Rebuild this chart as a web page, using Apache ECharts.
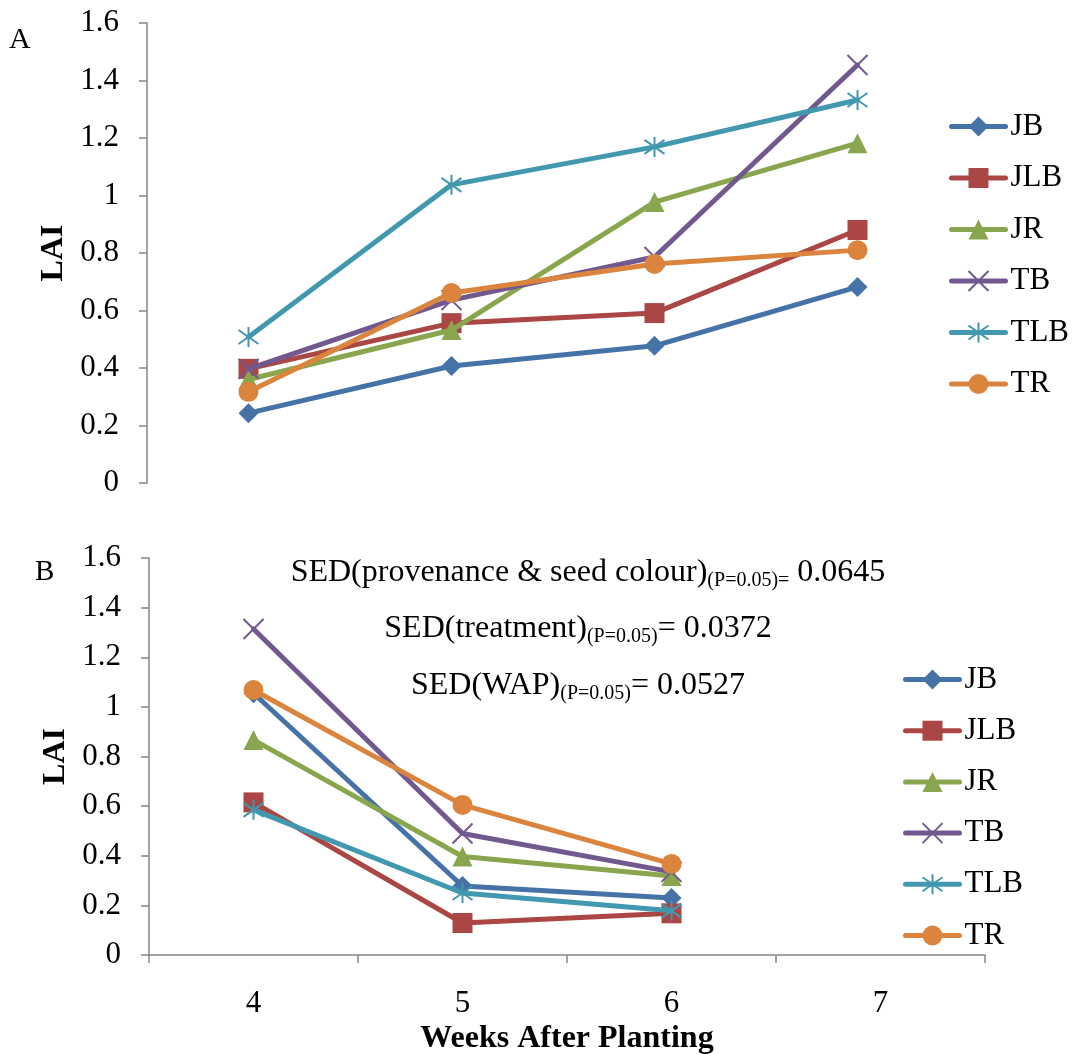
<!DOCTYPE html>
<html><head><meta charset="utf-8">
<script src="https://cdn.jsdelivr.net/npm/echarts@6/dist/echarts.min.js"></script>
<style>html,body{margin:0;padding:0;background:#fff}#c{width:1077px;height:1054px}</style>
</head><body><div id="c"></div>
<script>
// ---- Data ----
const weeks = ['4', '5', '6', '7'];
const seriesNames = ['JB', 'JLB', 'JR', 'TB', 'TLB', 'TR'];
const yTicks = [0, 0.2, 0.4, 0.6, 0.8, 1, 1.2, 1.4, 1.6];

// Panel A
const A_JB  = [0.243, 0.407, 0.477, 0.682];
const A_JLB = [0.397, 0.556, 0.591, 0.880];
const A_JR  = [0.360, 0.532, 0.977, 1.182];
const A_TB  = [0.397, 0.636, 0.786, 1.454];
const A_TLB = [0.508, 1.037, 1.169, 1.332];
const A_TR  = [0.317, 0.661, 0.762, 0.810];

// Panel B
const B_JB  = [1.055, 0.278, 0.230];
const B_JLB = [0.615, 0.129, 0.168];
const B_JR  = [0.867, 0.397, 0.318];
const B_TB  = [1.314, 0.490, 0.335];
const B_TLB = [0.585, 0.250, 0.178];
const B_TR  = [1.068, 0.605, 0.367];

const sedLines = [
  ['SED(provenance & seed colour)', '(P=0.05)=', ' 0.0645'],
  ['SED(treatment)', '(P=0.05)', '= 0.0372'],
  ['SED(WAP)', '(P=0.05)', '= 0.0527']
];

// ---- Styles ----
const colors = ['#4572A7', '#AA4643', '#89A54E', '#71588F', '#4198AF', '#DB843D'];
const symbols = [
  'diamond', 'rect', 'triangle',
  'path://M0,0L10,10M10,0L0,10',
  'path://M5,0L5,10M0.7,1.5L9.3,8.5M9.3,1.5L0.7,8.5',
  'circle'
];
const isStroke = [false, false, false, true, true, false];
const FONT = 'Liberation Serif';
const axisGray = '#868686';

const dataA = [A_JB, A_JLB, A_JR, A_TB, A_TLB, A_TR];
const dataB = [B_JB, B_JLB, B_JR, B_TB, B_TLB, B_TR];

function mkSeries(idx, data, name, i) {
  return {
    type: 'line', name: name, xAxisIndex: idx, yAxisIndex: idx,
    data: data, symbol: symbols[i], symbolSize: 20,
    lineStyle: { color: colors[i], width: 5, cap: 'round', join: 'round' },
    itemStyle: isStroke[i]
      ? { color: colors[i], borderColor: colors[i], borderWidth: 2 }
      : { color: colors[i] },
    emphasis: { disabled: true },
    animation: false, z: 2 + i
  };
}

const series = [];
seriesNames.forEach((n, i) => series.push(mkSeries(0, dataA[i], n, i)));
seriesNames.forEach((n, i) => series.push(mkSeries(1, dataB[i], n, i)));

function yAxis(gi) {
  return {
    gridIndex: gi, type: 'value', min: yTicks[0], max: yTicks[yTicks.length - 1], interval: 0.2,
    name: 'LAI', nameLocation: 'middle', nameGap: 77, nameRotate: 90,
    nameTextStyle: { fontFamily: FONT, fontWeight: 'bold', fontSize: 32, color: '#000' },
    splitLine: { show: false },
    axisLine: { show: true, lineStyle: { color: axisGray, width: 1.5 } },
    axisTick: { show: true, length: 8, lineStyle: { color: axisGray, width: 1.5 } },
    axisLabel: { color: '#000', fontFamily: FONT, fontSize: 31, margin: 28,
      formatter: v => String(+v.toFixed(1)) }
  };
}

const legendCommon = {
  orient: 'vertical', selectedMode: false, itemWidth: 54, itemHeight: 25, itemGap: 21,
  lineStyle: { width: 5, cap: 'round' },
  textStyle: { fontFamily: FONT, fontSize: 31, color: '#000', lineHeight: 30 },
  data: seriesNames
};

const rich = {
  m: { fontFamily: FONT, fontSize: 32, lineHeight: 36, color: '#000' },
  s: { fontFamily: FONT, fontSize: 20, lineHeight: 20, color: '#000', verticalAlign: 'bottom' }
};
const sedPos = [[588, 573], [578, 629], [578, 686]];

const option = {
  backgroundColor: '#fff',
  animation: false,
  grid: [
    { left: 147, right: 118, top: 23, bottom: 571, containLabel: false, outerBoundsMode: 'none' },
    { left: 149, right: 92, top: 558, bottom: 99, containLabel: false, outerBoundsMode: 'none' }
  ],
  xAxis: [
    { gridIndex: 0, type: 'category', data: weeks, boundaryGap: true, show: false },
    { gridIndex: 1, type: 'category', data: weeks, boundaryGap: true,
      name: 'Weeks After Planting', nameLocation: 'middle', nameGap: 68,
      nameTextStyle: { fontFamily: FONT, fontWeight: 'bold', fontSize: 32, color: '#000' },
      axisLine: { show: true, lineStyle: { color: axisGray, width: 1.5 } },
      axisTick: { show: true, length: 8, alignWithLabel: false, interval: 0, lineStyle: { color: axisGray, width: 1.5 } },
      axisLabel: { color: '#000', fontFamily: FONT, fontSize: 31, margin: 33, interval: 0 },
      splitLine: { show: false } }
  ],
  yAxis: [yAxis(0), yAxis(1)],
  legend: [
    Object.assign({}, legendCommon, { left: 944, top: 106, itemGap: 20.5 }),
    Object.assign({}, legendCommon, { left: 898, top: 659, itemGap: 20.2 })
  ],
  graphic: [
    { type: 'text', left: 9, top: 25, style: { text: 'A', font: '30px "Liberation Serif"', fill: '#000' } },
    { type: 'text', left: 35, top: 558, style: { text: 'B', font: '29px "Liberation Serif"', fill: '#000' } }
  ].concat(sedLines.map((l, i) => ({
    type: 'text', x: sedPos[i][0], y: sedPos[i][1], z: 100,
    style: {
      text: '{m|' + l[0] + '}{s|' + l[1] + '}{m|' + l[2] + '}',
      rich: rich, align: 'center', verticalAlign: 'middle'
    }
  }))),
  series: series
};

const chart = echarts.init(document.getElementById('c'), null, { renderer: 'canvas' });
chart.setOption(option);
</script>
</body></html>
